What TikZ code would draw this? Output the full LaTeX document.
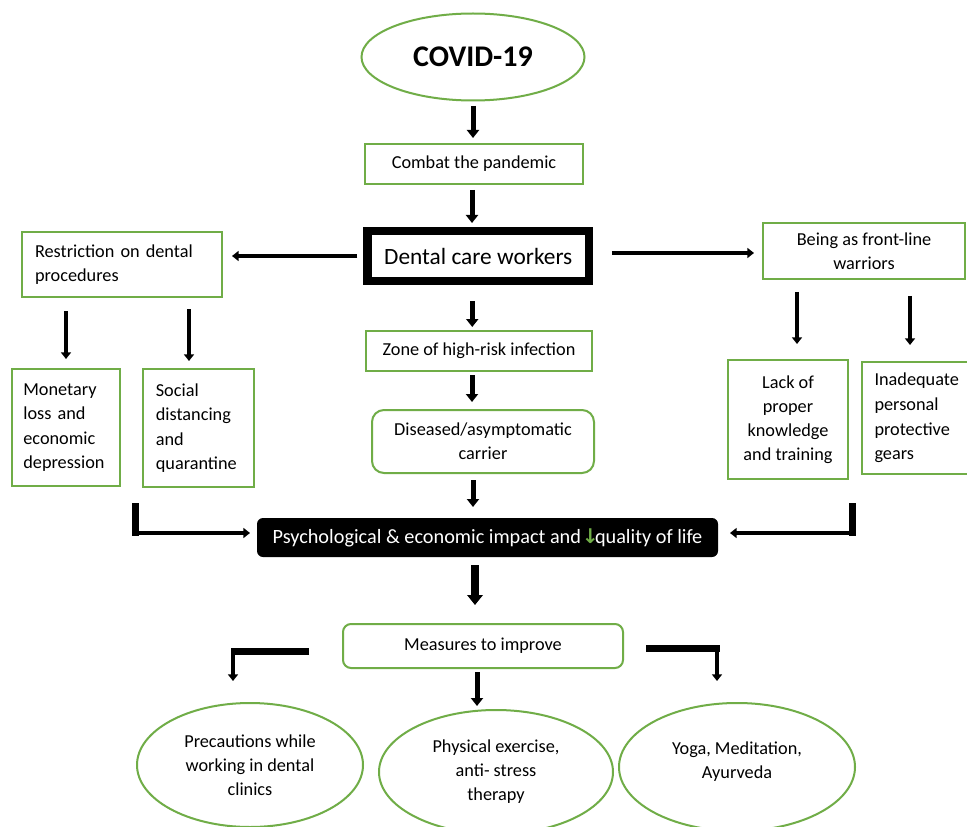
\documentclass[tikz,border=0pt]{standalone}
\usepackage{fontspec}
\setmainfont{Carlito}
\newfontfamily\symfont{DejaVu Sans}
\usetikzlibrary{arrows.meta,calc,shapes.geometric}
\definecolor{gline}{HTML}{70AD47}
\begin{document}
\begin{tikzpicture}[x=0.75pt,y=-0.75pt,
  every node/.style={inner sep=0pt, outer sep=0pt, font=\fontsize{13.7}{18}\selectfont},
  gbox/.style={draw=gline, line width=1.5pt, rectangle},
  gell/.style={draw=gline, line width=1.5pt, ellipse, align=center},
  varrow/.style={draw=black, line width=3.75pt, -{Triangle[width=9pt,length=6pt]}},
  harrow/.style={draw=black, line width=3pt, -{Triangle[width=7.5pt,length=5pt]}},
  bigarrow/.style={draw=black, line width=6pt, -{Triangle[width=11.5pt,length=7.5pt]}},
  thickbar/.style={draw=black, line width=5.25pt},
]
\useasboundingbox (0,0) rectangle (967,827);
\fill[white] (0,0) rectangle (967,827);

% nodes
\node[gell, minimum width=167.25pt, minimum height=65.25pt, font=\fontsize{22.5}{27}\selectfont\bfseries] (covid) at (473,57) {COVID-19};
\node[gbox, minimum width=163.5pt, minimum height=30pt] (combat) at (474,164) {Combat the pandemic};
\node[draw=black, line width=6.4pt, minimum width=166pt, minimum height=37.5pt, font=\fontsize{17.5}{21}\selectfont] (dental) at (478.25,256) {Dental care workers};
\node[gbox, minimum width=150pt, minimum height=48.75pt, text width=130.5pt, align=left] (restr) at (122,264.5) {Restriction on dental\\procedures};
\node[gbox, minimum width=151.5pt, minimum height=42pt, align=center] (being) at (864,251) {Being as front-line\\warriors};
\node[gbox, minimum width=81pt, minimum height=87.75pt, text width=64pt, align=left, font=\fontsize{13.7}{18.4}\selectfont] (monet) at (66,427.5) {Monetary\\loss and\\economic\\depression};
\node[gbox, minimum width=83.25pt, minimum height=88.5pt, text width=64pt, align=left, font=\fontsize{13.7}{18.4}\selectfont] (social) at (198.5,428) {Social\\distancing\\and\\quarantine};
\node[gbox, minimum width=169.5pt, minimum height=30pt] (zone) at (479,351) {Zone of high-risk infection};
\node[gbox, rounded corners=9pt, minimum width=166.5pt, minimum height=47.25pt, align=center] (disease) at (483,441.5) {Diseased/asymptomatic\\carrier};
\node[gbox, minimum width=90pt, minimum height=89.25pt, align=center] (lack) at (788,419.5) {Lack of\\proper\\knowledge\\and training};
\node[gbox, minimum width=84.75pt, minimum height=84pt, text width=66pt, align=left, font=\fontsize{13.7}{18.5}\selectfont] (inadeq) at (918.5,418) {Inadequate\\personal\\protective\\gears};
\node[fill=black, rounded corners=4.5pt, minimum width=345.75pt, minimum height=29.25pt, text=white, font=\fontsize{15.2}{18}\selectfont] (psych) at (487.5,537.5) {Psychological \& economic impact and \makebox[7pt]{\textcolor{gline}{\symfont\bfseries ↓}}quality of life};
\node[gbox, rounded corners=6pt, minimum width=210pt, minimum height=33pt] (measures) at (483,646) {Measures to improve};
\node[gell, minimum width=169.5pt, minimum height=93pt] (prec) at (250,765) {Precautions while\\working in dental\\clinics};
\node[gell, minimum width=175.5pt, minimum height=93pt] (phys) at (496,772) {Physical exercise,\\anti- stress\\therapy};
\node[gell, minimum width=177pt, minimum height=96pt] (yoga) at (737,767) {Yoga, Meditation,\\Ayurveda\\[-7.5pt]\mbox{}};

% main vertical chain
\draw[varrow, shorten <=4pt, shorten >=4.5pt] (covid.south) -- (covid.south |- combat.north);
\draw[varrow, shorten <=4.5pt, shorten >=6pt] ($(combat.south)+(-2,0)$) -- ($(combat.south |- dental.north)+(-2,0)$);
\draw[varrow, shorten <=15pt, shorten >=3pt] ($(dental.south)+(-6,0)$) -- ($(dental.south |- zone.north)+(-6,0)$);
\draw[varrow, shorten <=3pt, shorten >=6pt] ($(zone.south)+(-7,0)$) -- ($(zone.south |- disease.north)+(-7,0)$);
\draw[varrow, shorten <=5.25pt, shorten >=8.25pt] ($(disease.south)+(-10,0)$) -- ($(disease.south |- psych.north)+(-10,0)$);
\draw[bigarrow, shorten <=6pt, shorten >=14.25pt] ($(psych.south)+(-12.5,0)$) -- ($(psych.south |- measures.north)+(-12.5,0)$);
\draw[varrow, shorten <=3pt, shorten >=3pt] ($(measures.south)+(-6,0)$) -- ($(measures.south |- phys.north)+(-6,0)$);

% sideways from dental care workers
\draw[harrow, shorten <=7.7pt, shorten >=7.5pt] (dental.west) -- (dental.west -| restr.east);
\draw[harrow, shorten <=17.25pt, shorten >=6.75pt] ($(dental.east)+(0,-3)$) -- ($(dental.east -| being.west)+(0,-3)$);

% down from restriction and front-line
\draw[harrow, shorten <=10.5pt, shorten >=7.5pt] (restr.south -| monet.north) -- (monet.north);
\draw[harrow, shorten <=9pt, shorten >=6pt] ($(restr.south -| social.north)+(-9.5,0)$) -- ($(social.north)+(-9.5,0)$);
\draw[harrow, shorten <=9.75pt, shorten >=12pt] ($(being.south -| lack.north)+(9,0)$) -- ($(lack.north)+(9,0)$);
\draw[harrow, shorten <=12.75pt, shorten >=12.75pt] ($(being.south -| inadeq.north)+(-8.5,0)$) -- ($(inadeq.north)+(-8.5,0)$);

% brackets into psych box
\coordinate (lbtop) at (135,503);
\coordinate (lbc) at (135,533);
\draw[thickbar] (lbtop) -- ($(lbc)+(0,2.5)$);
\draw[harrow, shorten >=5.25pt] (lbc) -- (lbc -| psych.west);
\coordinate (rbtop) at (852,503);
\coordinate (rbc) at (852,533);
\draw[thickbar] (rbtop) -- ($(rbc)+(0,2.5)$);
\draw[harrow, shorten >=9pt] (rbc) -- (rbc -| psych.east);

% brackets from measures
\coordinate (mlt) at (309,651);
\coordinate (mlc) at (233,651);
\draw[thickbar] (mlt) -- ($(mlc)+(-2.5,0)$);
\draw[harrow, shorten >=16.5pt] (mlc) -- (mlc |- prec.north);
\coordinate (mrt) at (646,648);
\coordinate (mrc) at (717,648);
\draw[thickbar] (mrt) -- ($(mrc)+(2.5,0)$);
\draw[harrow, shorten >=16.5pt] (mrc) -- (mrc |- yoga.north);
\end{tikzpicture}
\end{document}
